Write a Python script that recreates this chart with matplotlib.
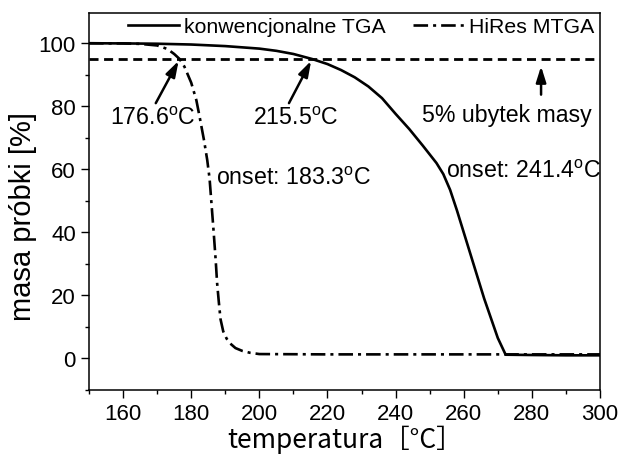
import matplotlib
matplotlib.use("Agg")
import matplotlib.pyplot as plt
from matplotlib.ticker import MultipleLocator

plt.rcParams["font.family"] = ["Liberation Sans", "DejaVu Sans"]
plt.rcParams["mathtext.fontset"] = "custom"
plt.rcParams["mathtext.rm"] = "Liberation Sans"
plt.rcParams["mathtext.it"] = "Liberation Sans:italic"
plt.rcParams["lines.scale_dashes"] = False

# conventional TGA run
tga_temp = [150, 160, 170, 180, 190, 200, 205, 210, 215.5, 220, 224, 228, 232,
            236, 240, 244, 248, 252, 254, 256, 258, 262, 266, 270, 272.3,
            280, 290, 300]
tga_mass = [100, 99.95, 99.85, 99.6, 99.1, 98.3, 97.6, 96.6, 95.0, 93.4, 91.5,
            89.2, 86.3, 82.6, 77.6, 72.8, 67.5, 62.0, 58.5, 53.5, 47.0, 33.0,
            19.0, 6.5, 1.2, 1.1, 1.0, 1.0]

# high-resolution modulated TGA run
mtga_temp = [150, 160, 165, 170, 173, 175, 176.6, 178, 180, 181.5, 182.5, 183.8,
             184.7, 185.4, 186, 186.6, 187.2, 187.6, 188.1, 188.6, 189.4, 190.4,
             191.4, 193, 195, 197.3, 200, 220, 250, 280, 300]
mtga_mass = [100, 99.95, 99.8, 99.3, 98.2, 96.6, 95.0, 92.6, 87.5, 82.0, 76.5,
             69.0, 63.0, 57.0, 48.5, 40.0, 31.0, 24.0, 18.0, 12.5, 8.6, 6.3,
             4.8, 3.3, 2.4, 1.8, 1.4, 1.3, 1.3, 1.3, 1.3]

series_labels = ["konwencjonalne TGA", "HiRes MTGA"]
loss_level = 95.0

x_ticks = [160, 180, 200, 220, 240, 260, 280, 300]
y_ticks = [0, 20, 40, 60, 80, 100]

fig = plt.figure(figsize=(6.22, 4.60), dpi=100)
ax = fig.add_axes([89 / 622, 1 - 391 / 460, 511 / 622, 377 / 460])

lw = 1.9
ax.plot(tga_temp, tga_mass, color="black", lw=lw, label=series_labels[0])
ax.plot(mtga_temp, mtga_mass, color="black", lw=lw,
        dashes=[10.5, 3.6, 2.2, 3.6], label=series_labels[1])
ax.axhline(loss_level, color="black", lw=2.0, dashes=[6.5, 4.0])

ax.set_xlim(150, 300)
ax.set_ylim(-10, 109.6)
ax.set_xticks(x_ticks)
ax.set_yticks(y_ticks)
ax.xaxis.set_minor_locator(MultipleLocator(10))
ax.yaxis.set_minor_locator(MultipleLocator(10))
ax.tick_params(which="major", direction="out", length=5.5, width=1.0,
               labelsize=16, pad=4)
ax.tick_params(which="minor", direction="out", length=3, width=1.0)
ax.tick_params(top=False, right=False, which="both")
for sp in ax.spines.values():
    sp.set_linewidth(1.1)

ax.set_ylabel("masa próbki [%]", fontsize=21)
ax.yaxis.set_label_coords(-0.129, 0.464)
ax.yaxis.label.set_va("center")
ax.set_xlabel("temperatura［°C］", fontsize=19,
              family=["Noto Sans CJK JP", "DejaVu Sans"])
ax.xaxis.set_label_coords(0.5, -0.13)
ax.xaxis.label.set_va("center")

arrow = dict(arrowstyle="-|>,head_length=0.95,head_width=0.3", color="black",
             lw=1.8, shrinkA=0, shrinkB=0, mutation_scale=10)
ax.annotate("", xy=(176.3, 94.4), xytext=(169.6, 81.0), arrowprops=arrow)
ax.annotate("", xy=(215.2, 94.4), xytext=(208.7, 81.0), arrowprops=arrow)
ax.annotate("", xy=(282.7, 92.7), xytext=(282.7, 83.7), arrowprops=arrow)

fs = 16.7
ax.text(168.8, 76.6, r"176.6$^{\mathrm{o}}$C", fontsize=fs, ha="center", va="center")
ax.text(210.8, 76.6, r"215.5$^{\mathrm{o}}$C", fontsize=fs, ha="center", va="center")
ax.text(272.8, 77.3, "5% ubytek masy", fontsize=fs, ha="center", va="center")
ax.text(187.3, 57.5, r"onset: 183.3$^{\mathrm{o}}$C", fontsize=fs, ha="left", va="center")
ax.text(254.8, 59.6, r"onset: 241.4$^{\mathrm{o}}$C", fontsize=fs, ha="left", va="center")

ax.legend(loc="center left", bbox_to_anchor=(0.0763, 0.964), ncol=2,
          frameon=False, fontsize=15.3, handlelength=2.4, handletextpad=0.24,
          columnspacing=1.3, borderpad=0, borderaxespad=0)

fig.savefig("out.png", dpi=100)
